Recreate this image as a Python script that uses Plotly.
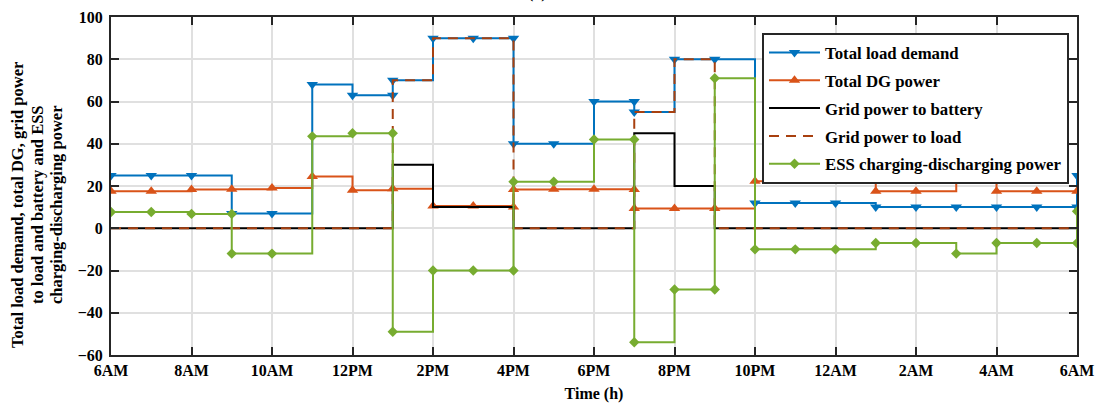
import plotly.graph_objects as go

# ---------------- data (hours after 6AM) ----------------
tick_vals = [0, 2, 4, 6, 8, 10, 12, 14, 16, 18, 20, 22, 24]
tick_text = ["6AM", "8AM", "10AM", "12PM", "2PM", "4PM", "6PM", "8PM",
             "10PM", "12AM", "2AM", "4AM", "6AM"]

load_t = [0, 1, 2, 3, 4, 5, 6, 7, 7, 8, 9, 10, 10, 11, 12, 13, 13, 14, 15,
          16, 17, 18, 19, 20, 21, 22, 23, 24, 24]
load_v = [25, 25, 25, 7, 7, 68, 63, 63, 70, 90, 90, 90, 40, 40, 60, 60, 55, 80, 80,
          12, 12, 12, 10, 10, 10, 10, 10, 10, 25]

dg_t = [0, 1, 2, 3, 4, 5, 6, 7, 8, 9, 10, 10, 11, 12, 13, 13, 14, 15,
        16, 17, 18, 19, 20, 21, 22, 23, 24]
dg_v = [17.5, 17.5, 18.3, 18.5, 19, 24.5, 18, 18.7, 10.5, 10.5, 10, 18.3, 18.5, 18.5, 18.3, 9.3, 9.3, 9.3,
        22.3, 22.3, 22.3, 17.5, 17.5, 22.5, 17.5, 17.5, 17.5]

grid_batt_t = list(range(25))
grid_batt_v = [0, 0, 0, 0, 0, 0, 0, 30, 10, 10, 0, 0, 0, 45, 20, 0,
               0, 0, 0, 0, 0, 0, 0, 0, 0]

grid_load_t = list(range(25))
grid_load_v = [0, 0, 0, 0, 0, 0, 0, 70, 90, 90, 0, 0, 0, 55, 80, 0,
               0, 0, 0, 0, 0, 0, 0, 0, 0]

ess_t = [0, 1, 2, 3, 3, 4, 5, 6, 7, 7, 8, 9, 10, 10, 11, 12, 13, 13, 14, 15, 15,
         16, 17, 18, 19, 20, 21, 22, 23, 24, 24]
ess_v = [7.7, 7.7, 6.8, 6.8, -12, -12, 43.5, 45, 45, -49, -20, -20, -20, 22, 22, 42, 42, -54, -29, -29, 71,
         -10, -10, -10, -7, -7, -12, -7, -7, -7, 8]

ylabel_lines = ["Total load demand, total DG, grid power",
                "to load and battery and ESS",
                "charging-discharging power"]

# ---------------- styling ----------------
FONT = "Liberation Serif"
AX = "#262626"
GRID = "#e0e0e0"

fig = go.Figure()

fig.add_trace(go.Scatter(
    x=load_t, y=load_v, name="Total load demand", mode="lines+markers",
    line=dict(color="#0072BD", width=2, shape="hv"),
    marker=dict(symbol="triangle-down", size=10, color="#0072BD"),
    legendgroup="a"))
fig.add_trace(go.Scatter(
    x=dg_t, y=dg_v, name="Total DG power", mode="lines+markers",
    line=dict(color="#D95319", width=2, shape="hv"),
    marker=dict(symbol="triangle-up", size=10, color="#D95319"),
    legendgroup="b"))
fig.add_trace(go.Scatter(
    x=grid_batt_t, y=grid_batt_v, name="Grid power to battery", mode="lines",
    line=dict(color="black", width=2, shape="hv"),
    legendgroup="c"))
fig.add_trace(go.Scatter(
    x=grid_load_t, y=grid_load_v, name="Grid power to load", mode="lines",
    line=dict(color="#A8400F", width=2, shape="hv", dash="10px,7px"),
    legendgroup="d"))
fig.add_trace(go.Scatter(
    x=ess_t, y=ess_v, name="ESS charging-discharging power", mode="lines+markers",
    line=dict(color="#77AC30", width=2, shape="hv"),
    marker=dict(symbol="diamond", size=8, color="#77AC30"),
    legendgroup="e"))

L, R, T, B = 111, 22, 17, 50
W, H = 1099, 405
pw, ph = W - L - R, H - T - B

def px_x(p):
    return (p - L) / pw

def px_y(p):
    return (H - B - p) / ph

bold16 = dict(family=FONT, size=16, color="black", weight="bold")
bold_leg = dict(family=FONT, size=16.8, color="black", weight="bold")
bold_yl = dict(family=FONT, size=16.5, color="black", weight="bold")

annots = []
for txt, xp in zip(ylabel_lines, [18, 38, 57]):
    annots.append(dict(text=txt, xref="paper", yref="paper", x=px_x(xp), y=px_y(205),
                       xanchor="center", yanchor="middle", textangle=-90,
                       showarrow=False, font=bold_yl))
annots.append(dict(text="(a)", xref="paper", yref="paper", x=px_x(537), y=px_y(4),
                   xanchor="center", yanchor="bottom", showarrow=False, font=bold16))

fig.update_layout(
    width=W, height=H,
    margin=dict(l=L, r=R, t=T, b=B, autoexpand=False),
    paper_bgcolor="white", plot_bgcolor="white",
    font=dict(family=FONT, size=16, color="black"),
    showlegend=True,
    legend=dict(
        x=px_x(762), y=px_y(33), xanchor="left", yanchor="top",
        bgcolor="white", bordercolor=AX, borderwidth=2,
        font=bold_leg, tracegroupgap=3, itemwidth=51,
    ),
    xaxis=dict(
        range=[0, 24], tickmode="array", tickvals=tick_vals, ticktext=tick_text,
        showgrid=True, gridcolor=GRID, gridwidth=2, zeroline=False,
        showline=True, linecolor=AX, linewidth=2, mirror="ticks",
        ticks="inside", ticklen=8, tickwidth=2, tickcolor=AX,
        tickfont=bold16,
        title=dict(text="Time (h)", font=bold16, standoff=10),
    ),
    yaxis=dict(
        range=[-60, 100], tickmode="linear", tick0=-60, dtick=20,
        showgrid=True, gridcolor=GRID, gridwidth=2, zeroline=False,
        showline=True, linecolor=AX, linewidth=2, mirror="ticks",
        ticks="inside", ticklen=8, tickwidth=2, tickcolor=AX,
        tickfont=bold16, ticklabelstandoff=3,
    ),
    annotations=annots,
)

fig.write_html("out.html", config={"displayModeBar": False},
               post_script="document.body.style.margin='0';")
